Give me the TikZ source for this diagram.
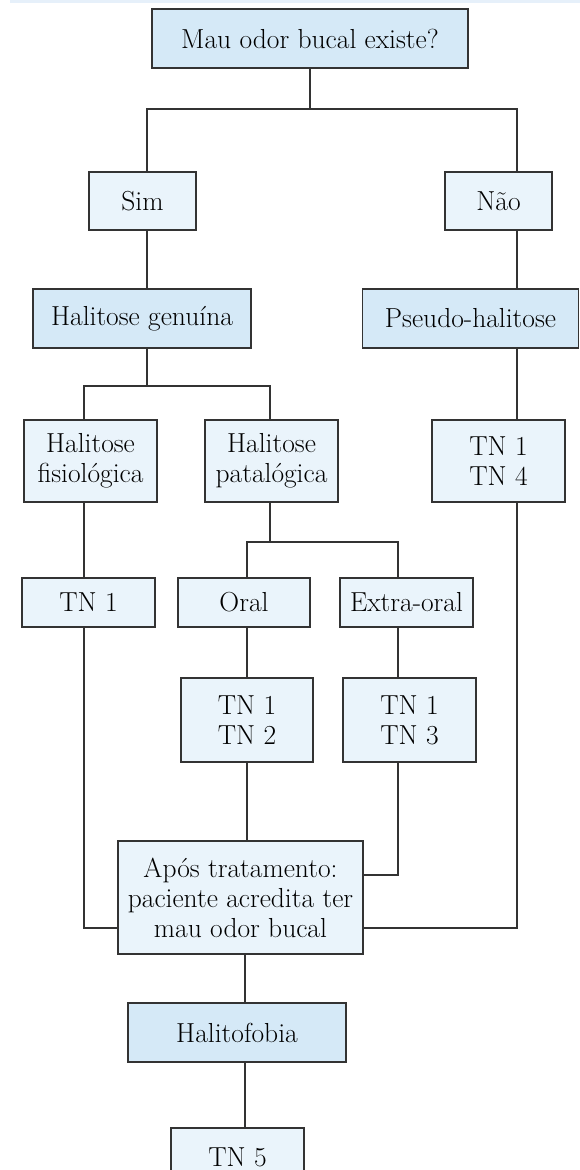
\documentclass[tikz,border=0pt]{standalone}
\definecolor{boxline}{HTML}{333333}
\definecolor{darkfill}{HTML}{D5E9F7}
\definecolor{litefill}{HTML}{EAF4FB}
\definecolor{stripfill}{HTML}{E6F0FA}
\newcommand{\boxfont}{\fontsize{27.5}{30}\selectfont}
\begin{document}
\begin{tikzpicture}
            [x=1pt,y=-1pt,
             dark/.style ={draw=boxline,line width=1.2pt,fill=darkfill,inner sep=0pt,align=center,font=\boxfont},
             lite/.style ={draw=boxline,line width=1.2pt,fill=litefill,inner sep=0pt,align=center,font=\boxfont},
             link/.style ={draw=boxline,line width=1.3pt}]
            \useasboundingbox (0,0) rectangle (580,1170);
            \clip (0,0) rectangle (580,1170);
            \fill[stripfill] (10,0) rectangle (580,3);
            % boxes
            \node[dark,minimum width=316pt,minimum height=59pt] (q) at (310,38.5) {Mau odor bucal existe?};
            \node[lite,minimum width=107pt,minimum height=58pt] (sim) at (142.5,201) {Sim};
            \node[lite,minimum width=107pt,minimum height=58pt] (nao) at (498.5,201) {Não};
            \node[dark,minimum width=218pt,minimum height=59pt] (gen) at (142,318.5) {Halitose genuína};
            \node[dark,minimum width=216pt,minimum height=59pt] (pseudo) at (470.5,318.5) {Pseudo-halitose};
            \node[lite,minimum width=133pt,minimum height=82pt] (fis) at (90.5,461) {Halitose\\fisiológica};
            \node[lite,minimum width=133pt,minimum height=82pt] (pat) at (271.5,461) {Halitose\\patalógica};
            \node[lite,minimum width=133pt,minimum height=82pt] (tn14) at (498.5,461) {TN 1\\TN 4};
            \node[lite,minimum width=133pt,minimum height=49pt] (tn1) at (88.5,602.5) {TN 1};
            \node[lite,minimum width=132pt,minimum height=49pt] (oral) at (244,602.5) {Oral};
            \node[lite,minimum width=133pt,minimum height=49pt] (extra) at (406.5,602.5) {Extra-oral};
            \node[lite,minimum width=132pt,minimum height=84pt] (tn12) at (247,720) {TN 1\\TN 2};
            \node[lite,minimum width=133pt,minimum height=84pt] (tn13) at (409.5,720) {TN 1\\TN 3};
            \node[lite,minimum width=245pt,minimum height=113pt] (apos) at (240.5,897.5) {Após tratamento:\\paciente acredita ter\\mau odor bucal};
            \node[dark,minimum width=218pt,minimum height=59pt] (fobia) at (237,1032.5) {Halitofobia};
            \node[lite,minimum width=133pt,minimum height=58pt] (tn5) at (237.5,1157) {TN 5};
            % joints
            \coordinate (top) at (310,109);
            \coordinate (yes) at (147,109);
            \coordinate (no) at (517,109);
            \coordinate (g) at (147,386);
            \coordinate (gl) at (84,386);
            \coordinate (gr) at (270,386);
            \coordinate (p) at (270,542);
            \coordinate (pl) at (247,542);
            \coordinate (pr) at (398,542);
            \coordinate (a1) at (398,875);
            \coordinate (a2) at (84,928);
            \coordinate (a3) at (517,928);
            \coordinate (b) at (245,990);
            % lines
            \draw[link] (q) -- (top);
            \draw[link] (sim.north -| yes) -- (yes) -- (no) -- (nao.north -| no);
            \draw[link] (sim.south -| yes) -- (gen.north -| yes);
            \draw[link] (nao.south -| no) -- (pseudo.north -| no);
            \draw[link] (pseudo.south -| no) -- (tn14.north -| no);
            \draw[link] (gen.south -| g) -- (g);
            \draw[link] (fis.north -| gl) -- (gl) -- (gr) -- (pat.north -| gr);
            \draw[link] (pat.south -| p) -- (p);
            \draw[link] (oral.north -| pl) -- (pl) -- (pr) -- (extra.north -| pr);
            \draw[link] (fis.south -| gl) -- (tn1.north -| gl);
            \draw[link] (oral.south -| pl) -- (tn12.north -| pl);
            \draw[link] (extra.south -| pr) -- (tn13.north -| pr);
            \draw[link] (tn12.south -| pl) -- (apos.north -| pl);
            \draw[link] (tn13.south -| a1) -- (a1) -- (apos.east |- a1);
            \draw[link] (tn1.south -| a2) -- (a2) -- (apos.west |- a2);
            \draw[link] (tn14.south -| a3) -- (a3) -- (apos.east |- a3);
            \draw[link] (apos.south -| b) -- (fobia.north -| b);
            \draw[link] (fobia.south -| b) -- (tn5.north -| b);
        \end{tikzpicture}
\end{document}
